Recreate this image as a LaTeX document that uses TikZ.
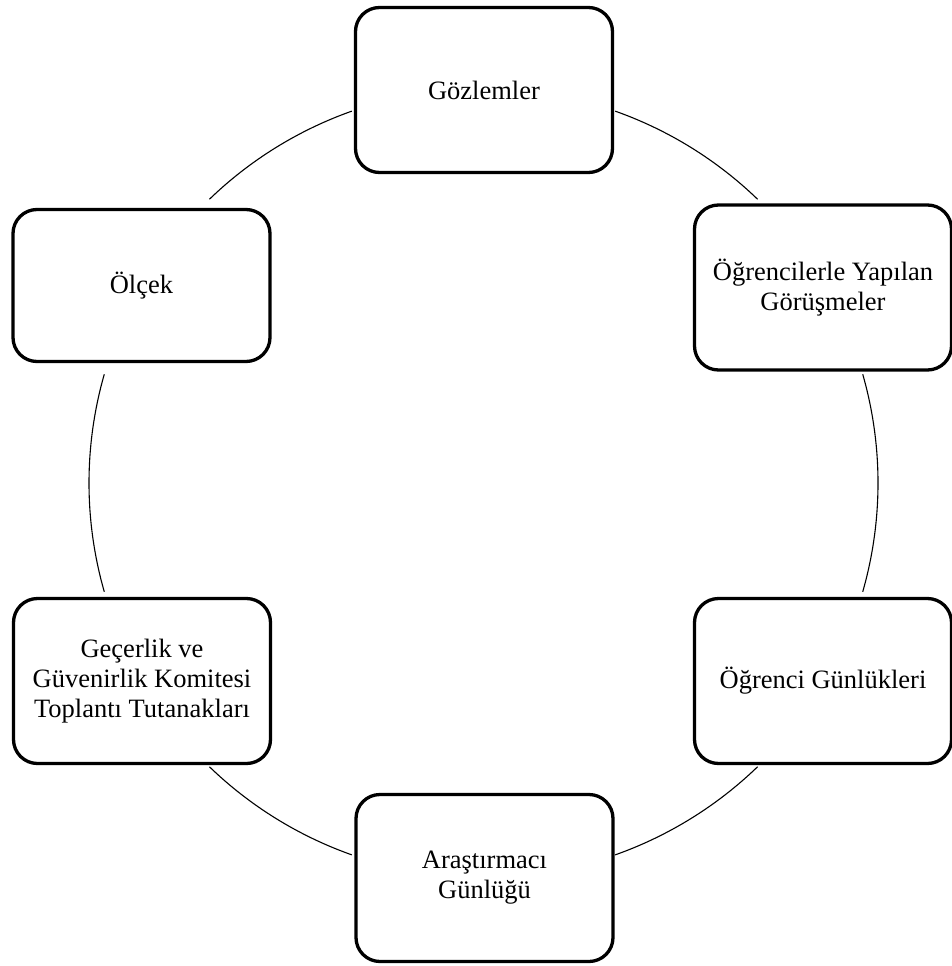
\documentclass[tikz,border=0pt]{standalone}
\usepackage{fontspec}
\setmainfont{Liberation Serif}
\begin{document}
\begin{tikzpicture}[x=1pt,y=-1pt,
  box/.style={draw=black, line width=3.3pt, rounded corners=24pt, fill=white,
    minimum width=257pt, minimum height=165pt, align=center, inner sep=4pt,
    font=\fontsize{26.5pt}{30pt}\selectfont},
  ring/.style={draw=black, line width=1.1pt}]
\useasboundingbox (0,0) rectangle (952,966);
\coordinate (c) at (483.5,483);
\def\r{394.5pt}
% circle arcs (y axis flipped: use negative angles for screen-up)
\draw[ring] ([shift={(-70.5:\r)}]c) arc[start angle=-70.5, end angle=-46, radius=\r];
\draw[ring] ([shift={(-16:\r)}]c) arc[start angle=-16, end angle=16, radius=\r];
\draw[ring] ([shift={(46:\r)}]c) arc[start angle=46, end angle=70.5, radius=\r];
\draw[ring] ([shift={(109.5:\r)}]c) arc[start angle=109.5, end angle=134, radius=\r];
\draw[ring] ([shift={(164:\r)}]c) arc[start angle=164, end angle=196, radius=\r];
\draw[ring] ([shift={(226:\r)}]c) arc[start angle=226, end angle=250.5, radius=\r];
% boxes
\node[box] (goz) at (484,90) {Gözlemler};
\node[box] (gor) at (823,287.5) {Öğrencilerle Yapılan\\Görüşmeler};
\node[box] (gun) at (823,681) {Öğrenci Günlükleri};
\node[box, minimum height=167pt] (ara) at (484.5,878) {Araştırmacı\\Günlüğü};
\node[box] (gec) at (142,681) {Geçerlik ve\\Güvenirlik Komitesi\\Toplantı Tutanakları};
\node[box, minimum height=152pt] (olc) at (141.5,285.5) {Ölçek};
\end{tikzpicture}
\end{document}
